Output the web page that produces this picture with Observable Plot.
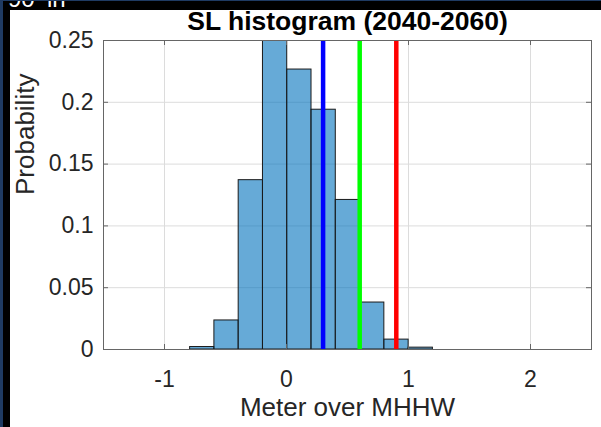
<!DOCTYPE html>
<html>
<head>
<meta charset="utf-8">
<script src="https://cdn.jsdelivr.net/npm/d3@7"></script>
<script src="https://cdn.jsdelivr.net/npm/@observablehq/plot@0.6"></script>
<style>
  html, body { margin: 0; padding: 0; width: 601px; height: 427px; overflow: hidden; }
  #navy { position: absolute; left: 0; top: 0; width: 601px; height: 427px; background: #1f3b63; }
  #black { position: absolute; left: 3px; top: 1px; right: 0; bottom: 0; background: #000; }
  #white { position: absolute; left: 10px; top: 10px; right: 0; bottom: 0; background: #fff; }
  #cut { position: absolute; left: 8px; top: 1px; width: 120px; height: 9px; overflow: hidden; }
  #cut span { position: absolute; top: -15px; font: 24px "Liberation Sans", Arial, sans-serif; color: #fff; line-height: 26px; white-space: pre; }
  #chart { position: absolute; left: 0; top: 0; }
</style>
</head>
<body>
<div id="navy"></div>
<div id="black"></div>
<div id="white"></div>
<div id="cut"><span style="left:0px">90</span><span style="left:39px">in</span></div>
<div id="chart"></div>
<script>
// Histogram bin edges (metres over MHHW) and probabilities
const binEdges = [-0.79, -0.591, -0.392, -0.193, 0.006, 0.205, 0.404, 0.603, 0.802, 1.001, 1.2];
const probabilities = [0.002, 0.0235, 0.137, 0.262, 0.2265, 0.194, 0.121, 0.038, 0.008, 0.0015];
// Vertical marker lines
const markerValues = [0.3, 0.6, 0.9];
const markerColors = ["#0000ff", "#00ff00", "#ff0000"];
// Ticks
const xTicks = [-1, 0, 1, 2];
const yTicks = [0, 0.05, 0.1, 0.15, 0.2, 0.25];
const yTickLabels = ["0", "0.05", "0.1", "0.15", "0.2", "0.25"];
const titleText = "SL histogram (2040-2060)";
const xLabel = "Meter over MHHW";
const yLabel = "Probability";

const bins = probabilities.map((p, i) => ({x1: binEdges[i], x2: binEdges[i + 1], p}));

const axisColor = "#666666";
const W = 601, H = 427, mL = 103, mR = 10, mT = 40, mB = 78;
const plotW = W - mL - mR, plotH = H - mT - mB;
const tickLen = 5;

const chart = Plot.plot({
  width: W,
  height: H,
  marginLeft: mL,
  marginRight: mR,
  marginTop: mT,
  marginBottom: mB,
  style: {background: "transparent", fontFamily: "'Liberation Sans', Arial, sans-serif", fontSize: "23px", color: "#262626", overflow: "visible"},
  x: {domain: [-1.5, 2.5]},
  y: {domain: [0, 0.25]},
  marks: [
    Plot.gridX(xTicks, {stroke: "#dcdcdc", strokeOpacity: 1}),
    Plot.gridY(yTicks, {stroke: "#dcdcdc", strokeOpacity: 1}),
    Plot.rect(bins, {x1: "x1", x2: "x2", y1: 0, y2: "p", fill: "#0072BD", fillOpacity: 0.6, stroke: "#1a1a1a", strokeWidth: 1, clip: true}),
    ...markerValues.map((v, i) => Plot.ruleX([v], {stroke: markerColors[i], strokeWidth: 4.5})),
    Plot.tickX(xTicks, {x: d => d, insetTop: plotH - tickLen, stroke: axisColor}),
    Plot.tickX(xTicks, {x: d => d, insetBottom: plotH - tickLen, stroke: axisColor}),
    Plot.tickY(yTicks, {y: d => d, insetRight: plotW - tickLen, stroke: axisColor}),
    Plot.tickY(yTicks, {y: d => d, insetLeft: plotW - tickLen, stroke: axisColor}),
    Plot.frame({stroke: axisColor}),
    Plot.axisX({ticks: xTicks, tickSize: 0, tickPadding: 21, label: null, tickFormat: d => String(d)}),
    Plot.axisY({ticks: yTicks, tickSize: 0, tickPadding: 10, label: null, tickFormat: (d, i) => yTickLabels[yTicks.indexOf(d)]}),
    Plot.text([titleText], {frameAnchor: "top", dy: -29, fontSize: 26.5, fontWeight: "bold", fill: "#000"}),
    Plot.text([xLabel], {frameAnchor: "bottom", dy: 66, fontSize: 26, fill: "#262626"}),
    Plot.text([yLabel], {frameAnchor: "left", dx: -78, rotate: -90, fontSize: 26, fill: "#262626"})
  ]
});
document.getElementById("chart").appendChild(chart);
</script>
</body>
</html>
